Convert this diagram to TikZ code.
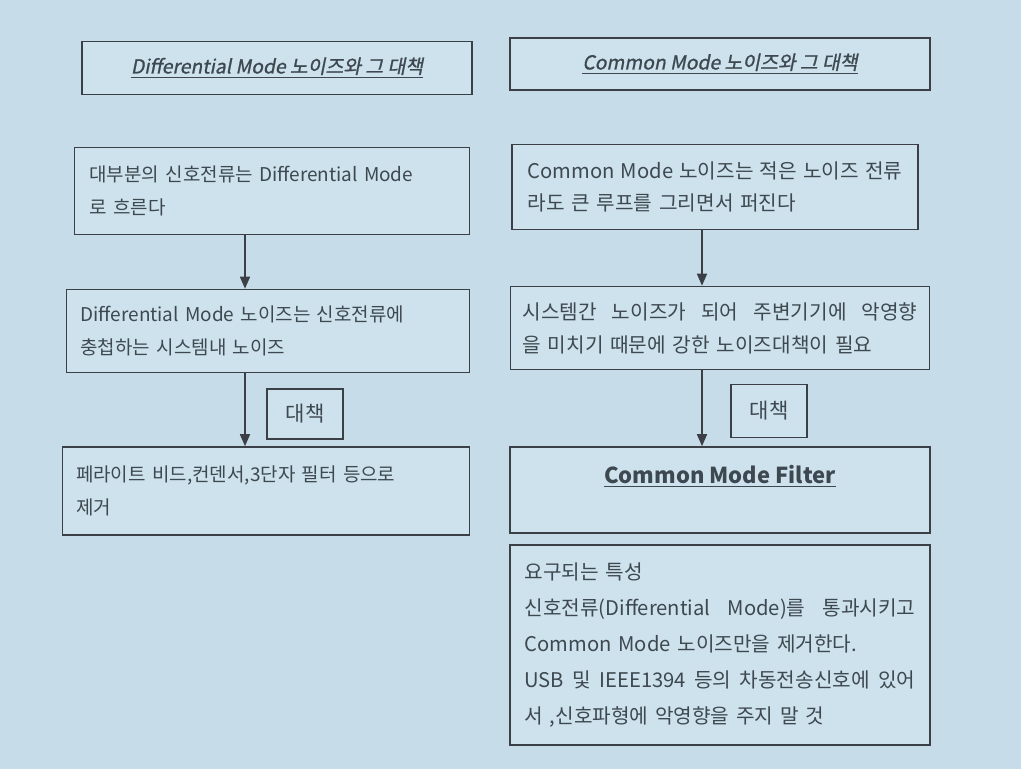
\documentclass[tikz,border=0pt]{standalone}
\usepackage{fontspec}
\setmainfont{Noto Sans CJK KR}
\newfontfamily\titlefont[FakeSlant=0.2,FakeBold=1]{Noto Sans CJK KR}
\usetikzlibrary{arrows.meta}
\definecolor{pagebg}{RGB}{198,221,233}
\definecolor{boxbg}{RGB}{205,226,236}
\definecolor{inkline}{RGB}{58,64,70}
\definecolor{inktext}{RGB}{62,72,80}
\newcommand\fullline[1]{\leavevmode\hbox to \hsize{#1}}
\tikzset{
  textbox/.style={draw=inkline,fill=boxbg,line width=0.9pt,inner xsep=0pt,inner ysep=0pt,align=left,text=inktext,font=\fontsize{10.8}{18.7}\selectfont},
  rightbox/.style={textbox,font=\fontsize{11.5}{18.7}\selectfont},
  titlebox/.style={draw=inkline,fill=boxbg,line width=0.9pt,align=center,text=inktext,font={\titlefont\fontsize{11}{13}\selectfont}},
  mainbox/.style={draw=inkline,fill=boxbg,line width=0.9pt,minimum width=1.53cm,minimum height=1cm,text=inktext,font=\fontsize{12}{14}\selectfont},
  arr/.style={draw=inkline,line width=0.9pt,-{Triangle[length=2.4mm,width=2mm]}}
}
\begin{document}
\begin{tikzpicture}[x=0.02cm,y=-0.02cm]
\fill[pagebg] (0,0) rectangle (1021,769);
\useasboundingbox (0,0) rectangle (1021,769);

% titles
\node[titlebox,minimum width=7.8cm,minimum height=1.06cm] (ltitle) at (277,68) {\underline{Differential Mode 노이즈와 그 대책}};
\node[titlebox,minimum width=8.4cm,minimum height=1.04cm] (rtitle) at (720,64) {\underline{Common Mode 노이즈와 그 대책}};

% left column
\node[textbox,minimum width=7.9cm,text width=7.3cm,minimum height=1.74cm] (l1) at (272,191) {대부분의 신호전류는 Differential Mode\\로 흐른다};
\node[textbox,minimum width=8.06cm,text width=7.5cm,minimum height=1.66cm] (l2) at (268,331) {Differential Mode 노이즈는 신호전류에\\충첩하는 시스템내 노이즈};
\node[mainbox] (ld) at (305,414) {대책};
\node[textbox,minimum width=8.14cm,text width=7.6cm,minimum height=1.76cm] (l3) at (266,491) {페라이트 비드,컨덴서,3단자 필터 등으로\\제거};

% right column
\node[rightbox,minimum width=8.12cm,text width=7.5cm,minimum height=1.7cm] (r1) at (715,187) {\fullline{Common\hfill Mode\hfill 노이즈는\hfill 적은\hfill 노이즈\hfill 전류}\\라도 큰 루프를 그리면서 퍼진다};
\node[rightbox,minimum width=8.38cm,text width=7.9cm,minimum height=1.66cm] (r2) at (720,328) {\fullline{시스템간\hfill 노이즈가\hfill 되어\hfill 주변기기에\hfill 악영향}\\을 미치기 때문에 강한 노이즈대책이 필요};
\node[mainbox,minimum height=1.06cm] (rd) at (769,411) {대책};
\node[rightbox,minimum width=8.4cm,minimum height=1.72cm,label={[anchor=north,yshift=-0.26cm,text=inktext,font=\bfseries\fontsize{12.5}{14}\selectfont]north:\underline{Common Mode Filter}}] (r3) at (720,490) {};
\node[rightbox,minimum width=8.4cm,text width=7.82cm,minimum height=4cm,font=\fontsize{11.5}{20.4}\selectfont] (r4) at (720,645) {요구되는 특성\\
\fullline{신호전류(Differential\hfill Mode)를\hfill 통과시키고}\\
Common Mode 노이즈만을 제거한다.\\
\fullline{USB\hfill 및\hfill IEEE1394\hfill 등의\hfill 차동전송신호에\hfill 있어}\\
서 ,신호파형에 악영향을 주지 말 것};

% connectors
\coordinate (la) at (245,0);
\coordinate (ra) at (702,0);
\draw[arr] (la |- l1.south) -- (la |- l2.north);
\draw[arr] (la |- l2.south) -- (la |- l3.north);
\draw[arr] (ra |- r1.south) -- (ra |- r2.north);
\draw[arr] (ra |- r2.south) -- (ra |- r3.north);
\end{tikzpicture}
\end{document}
